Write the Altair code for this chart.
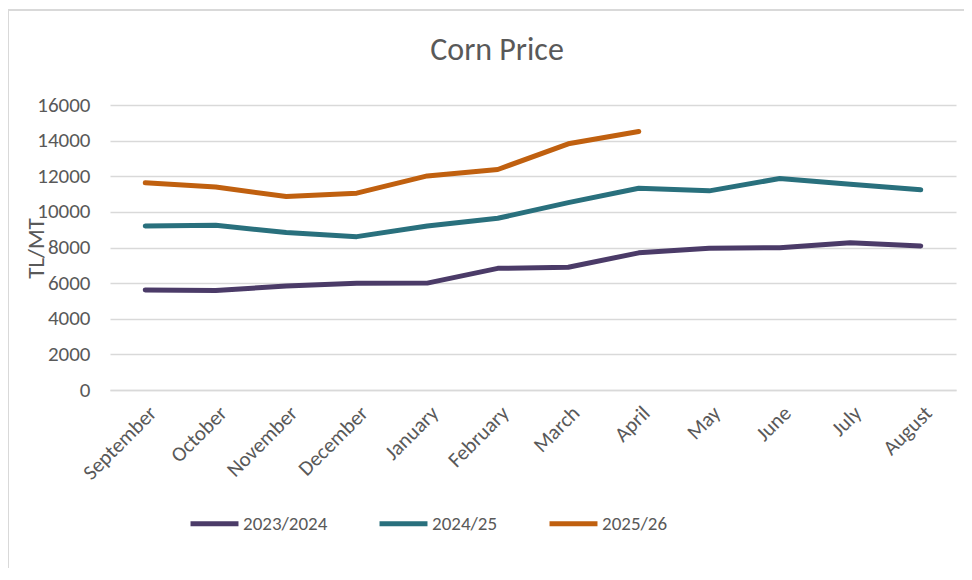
import altair as alt
import pandas as pd

months = ["September", "October", "November", "December", "January", "February",
          "March", "April", "May", "June", "July", "August"]
s2023 = [5620, 5580, 5840, 5990, 6000, 6830, 6890, 7700, 7960, 7990, 8260, 8090]
s2024 = [9210, 9250, 8840, 8610, 9210, 9640, 10520, 11330, 11180, 11870, 11550, 11240]
s2025 = [11630, 11400, 10860, 11050, 12020, 12380, 13820, 14510]
series_names = ["2023/2024", "2024/25", "2025/26"]
colors = ["#4b3b68", "#29707d", "#c0600f"]

rows = []
for name, vals in zip(series_names, [s2023, s2024, s2025]):
    for m, v in zip(months, vals):
        rows.append({"Month": m, "Value": v, "Series": name})
df = pd.DataFrame(rows)

FONT = "Carlito, Lato, Open Sans"

lines = alt.Chart(df).mark_line(strokeWidth=5, strokeCap="round", strokeJoin="round").encode(
    x=alt.X("Month:N", sort=months,
            scale=alt.Scale(paddingInner=0, paddingOuter=0.5),
            axis=alt.Axis(title=None, labelAngle=315, labelFontSize=21, labelColor="#595959",
                          labelFont=FONT, ticks=False, domain=True, domainColor="#d9d9d9",
                          domainWidth=1.5, labelPadding=12, grid=False)),
    y=alt.Y("Value:Q", scale=alt.Scale(domain=[0, 16000]),
            axis=alt.Axis(title="TL/MT", values=list(range(0, 16001, 2000)), format="d",
                          labelFontSize=21, labelColor="#595959", labelFont=FONT, ticks=False,
                          domain=False, gridColor="#d9d9d9", gridWidth=1.5, labelPadding=20,
                          titleFont=FONT, titleFontSize=23, titleFontWeight="normal",
                          titleColor="#595959", titleX=-62, titleY=143, titleAngle=270)),
    color=alt.Color("Series:N", scale=alt.Scale(domain=series_names, range=colors),
                    legend=alt.Legend(title=None, orient="none", direction="horizontal",
                                      legendX=78, legendY=392, symbolType="stroke",
                                      symbolSize=2300, symbolStrokeWidth=5,
                                      labelFontSize=19, labelFont=FONT, labelColor="#595959",
                                      labelOffset=2, columnPadding=41)),
)

frame = pd.DataFrame({"k": [0]})
left_border = alt.Chart(frame).mark_rule(color="#d9d9d9", strokeWidth=2).encode(
    x=alt.value(-102), x2=alt.value(-102), y=alt.value(-95), y2=alt.value(480))
top_border = alt.Chart(frame).mark_rule(color="#d9d9d9", strokeWidth=2).encode(
    x=alt.value(-102), x2=alt.value(870), y=alt.value(-95), y2=alt.value(-95))

chart = alt.layer(lines, left_border, top_border).properties(
    width=846, height=285,
    title=alt.TitleParams("Corn Price", fontSize=32, font=FONT, fontWeight="normal",
                          color="#595959", anchor="middle", dx=-36, offset=-58),
    autosize=alt.AutoSizeParams(type="none"),
    padding={"left": 102, "top": 97, "right": 8, "bottom": 178},
).configure_view(stroke=None)

chart.save("out.html", embed_options={"renderer": "svg", "actions": False})
